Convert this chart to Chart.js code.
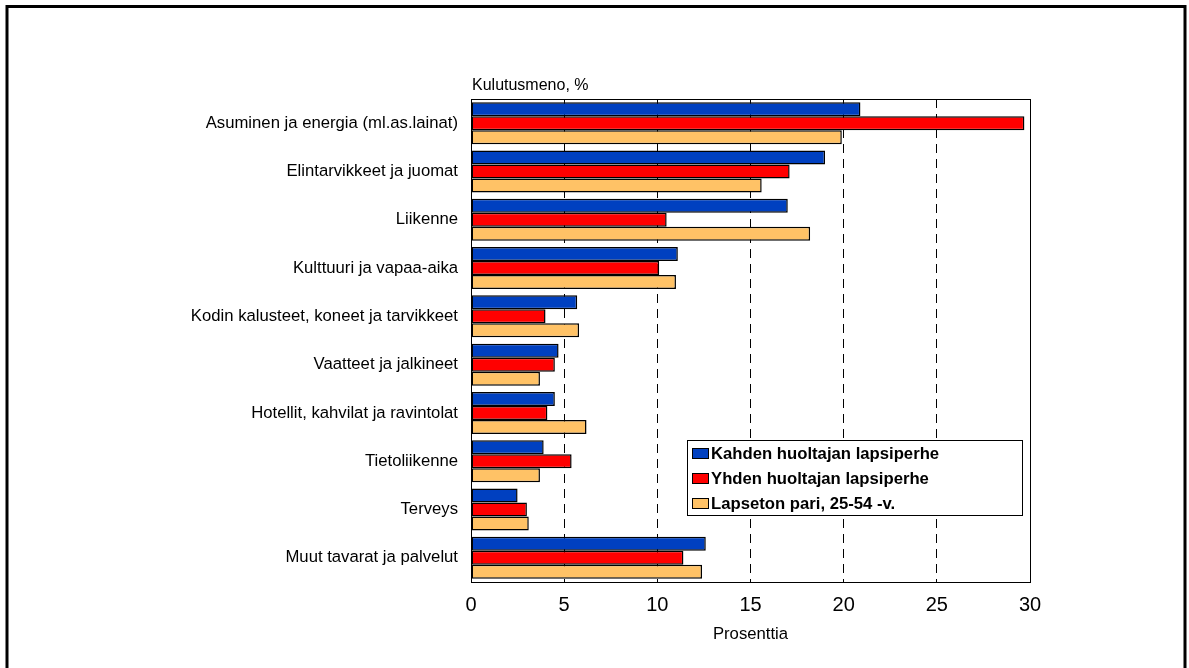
<!DOCTYPE html>
<html>
<head>
<meta charset="utf-8">
<script src="https://cdn.jsdelivr.net/npm/chart.js@4/dist/chart.umd.min.js"></script>
<style>
  html, body { margin: 0; padding: 0; background: #ffffff; }
  #wrap { width: 1189px; height: 668px; position: relative; }
  canvas { display: block; }
</style>
</head>
<body>
<div id="wrap"><canvas id="c" width="1189" height="668"></canvas></div>
<script>
const categories = [
  "Asuminen ja energia (ml.as.lainat)",
  "Elintarvikkeet ja juomat",
  "Liikenne",
  "Kulttuuri ja vapaa-aika",
  "Kodin kalusteet, koneet ja tarvikkeet",
  "Vaatteet ja jalkineet",
  "Hotellit, kahvilat ja ravintolat",
  "Tietoliikenne",
  "Terveys",
  "Muut tavarat ja palvelut"
];
const seriesNames = ["Kahden huoltajan lapsiperhe", "Yhden huoltajan lapsiperhe", "Lapseton pari, 25-54 -v."];
const kahden  = [20.9, 19.0, 17.0, 11.1, 5.7, 4.7, 4.5, 3.9, 2.5, 12.6];
const yhden   = [29.7, 17.1, 10.5, 10.1, 4.0, 4.5, 4.1, 5.4, 3.0, 11.4];
const lapseton= [19.9, 15.6, 18.2, 11.0, 5.8, 3.7, 6.2, 3.7, 3.1, 12.4];
const xTicks = [0, 5, 10, 15, 20, 25, 30];
const yTitle = "Kulutusmeno, %";
const xTitle = "Prosenttia";

const colors = ["#0040C0", "#FF0000", "#FFC266"];
const FONT = "'Liberation Sans', Arial, sans-serif";

const decor = {
  id: 'decor',
  afterDraw(chart) {
    const ctx = chart.ctx;
    const a = chart.chartArea;
    ctx.save();
    // plot frame
    ctx.strokeStyle = '#000';
    ctx.lineWidth = 1;
    ctx.setLineDash([]);
    ctx.strokeRect(Math.round(a.left) + 0.5, Math.round(a.top) + 0.5, Math.round(a.right - a.left), Math.round(a.bottom - a.top));
    // outer frame
    ctx.lineWidth = 3;
    ctx.beginPath();
    ctx.moveTo(7, 700);
    ctx.lineTo(7, 6.5);
    ctx.lineTo(1185, 6.5);
    ctx.lineTo(1185, 700);
    ctx.stroke();
    // top-left axis caption
    ctx.fillStyle = '#000';
    ctx.font = "16px " + FONT;
    ctx.textAlign = 'left';
    ctx.textBaseline = 'middle';
    ctx.fillText(yTitle, a.left + 1, 86);
    // legend
    const lx = 687, ly = 440, lw = 335, lh = 75;
    ctx.fillStyle = '#fff';
    ctx.fillRect(lx, ly, lw, lh);
    ctx.lineWidth = 1;
    ctx.strokeStyle = '#000';
    ctx.strokeRect(lx + 0.5, ly + 0.5, lw, lh);
    const rows = [453, 478, 503];
    ctx.font = "bold 16.7px " + FONT;
    chart.data.datasets.forEach((ds, i) => {
      const cy = rows[i];
      ctx.fillStyle = ds.backgroundColor;
      ctx.fillRect(692, cy - 5, 17, 10);
      ctx.strokeStyle = '#000';
      ctx.strokeRect(692.5, cy - 5 + 0.5, 16, 10);
      ctx.fillStyle = '#000';
      ctx.fillText(ds.label, 711, cy + 1);
    });
    ctx.restore();
  }
};

new Chart(document.getElementById('c'), {
  type: 'bar',
  data: {
    labels: categories,
    datasets: [
      { label: seriesNames[0], data: kahden, backgroundColor: colors[0] },
      { label: seriesNames[1], data: yhden, backgroundColor: colors[1] },
      { label: seriesNames[2], data: lapseton, backgroundColor: colors[2] }
    ].map(d => Object.assign(d, { borderColor: '#000', borderWidth: 1.5, borderSkipped: false, barPercentage: 1.0, categoryPercentage: 0.87 }))
  },
  options: {
    indexAxis: 'y',
    responsive: false,
    animation: false,
    layout: { padding: { top: 99, right: 159, left: 0, bottom: 20 } },
    plugins: { legend: { display: false }, tooltip: { enabled: false } },
    scales: {
      x: {
        min: 0, max: 30,
        afterBuildTicks(scale) { scale.ticks = xTicks.map(v => ({ value: v })); },
        afterFit(scale) { scale.height = 66; },
        grid: {
          color: '#000', lineWidth: 1, drawTicks: false
        },
        border: { display: false, dash: [9, 6] },
        ticks: { color: '#000', font: { family: FONT, size: 20 }, padding: 11 },
        title: { display: true, text: xTitle, color: '#000', font: { family: FONT, size: 16.7 }, padding: { top: 4, bottom: 4 } }
      },
      y: {
        afterFit(scale) { scale.width = 471; },
        grid: { display: false, drawTicks: false },
        border: { display: false },
        ticks: { color: '#000', font: { family: FONT, size: 16.7 }, padding: 13, autoSkip: false }
      }
    }
  },
  plugins: [decor]
});
</script>
</body>
</html>
